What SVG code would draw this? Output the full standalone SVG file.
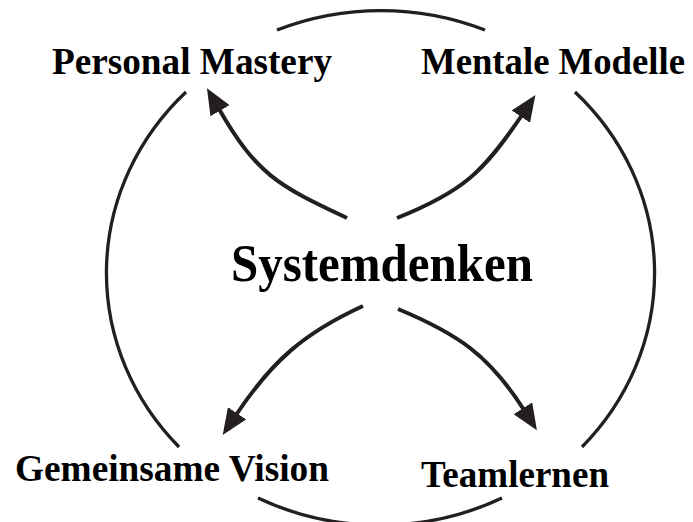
<svg xmlns="http://www.w3.org/2000/svg" width="693" height="522" viewBox="0 0 693 522">
  <style>
    .ring { fill: none; stroke: #231f20; stroke-width: 3.3; }
    .flow { fill: none; stroke: #231f20; stroke-width: 4; marker-end: url(#head); }
    .label { font-family: "Liberation Serif", "Times New Roman", serif; font-weight: bold; fill: #000; }
    .outer { font-size: 38px; }
    .core { font-size: 52px; }
  </style>
  <defs>
    <marker id="head" markerUnits="userSpaceOnUse" markerWidth="26" markerHeight="22" viewBox="0 0 26 22" refX="2" refY="11" orient="auto">
      <path d="M0,0 L26,11 L0,22 z" fill="#231f20"/>
    </marker>
  </defs>

  <!-- outer ring, broken where the labels sit -->
  <g id="ring">
    <path class="ring" d="M277,30 A272,256 0 0 1 485,30"/>
    <path class="ring" d="M575,92 A272,256 0 0 1 582,447"/>
    <path class="ring" d="M502,498 A272,256 0 0 1 258,498"/>
    <path class="ring" d="M179,447 A272,256 0 0 1 186,92"/>
  </g>

  <!-- curved arrows from the centre to each discipline -->
  <g id="connectors">
    <path class="flow" d="M347,218 C276,185 256,173 219,109"/>
    <path class="flow" d="M397,218 C462,192 483,173 522,115"/>
    <path class="flow" d="M363,306 C304,333 272,361 236,415"/>
    <path class="flow" d="M398,309 C458,334 489,355 524,410"/>
  </g>

  <g id="systemdenken">
    <text class="label core" x="231" y="281" textLength="302" lengthAdjust="spacingAndGlyphs">Systemdenken</text>
  </g>
  <g id="personal-mastery">
    <text class="label outer" x="52" y="74" textLength="280" lengthAdjust="spacingAndGlyphs">Personal Mastery</text>
  </g>
  <g id="mentale-modelle">
    <text class="label outer" x="421" y="74" textLength="264" lengthAdjust="spacingAndGlyphs">Mentale Modelle</text>
  </g>
  <g id="gemeinsame-vision">
    <text class="label outer" x="15" y="481" textLength="314" lengthAdjust="spacingAndGlyphs">Gemeinsame Vision</text>
  </g>
  <g id="teamlernen">
    <text class="label outer" x="421" y="487" textLength="188" lengthAdjust="spacingAndGlyphs">Teamlernen</text>
  </g>
</svg>
